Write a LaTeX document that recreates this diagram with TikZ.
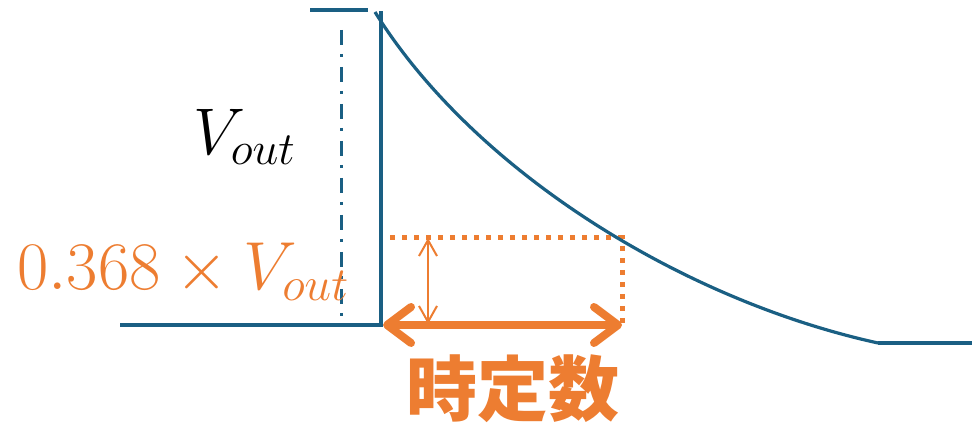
\RequirePackage{fix-cm}
\documentclass[tikz,border=0pt]{standalone}
\usepackage{fontspec}
\newfontfamily\cjk{Noto Sans CJK JP}
\usetikzlibrary{arrows.meta}
\definecolor{cblue}{HTML}{1A5F83}
\definecolor{corange}{HTML}{ED7D31}
\begin{document}
\begin{tikzpicture}[x=1pt,y=-1pt,
  blueline/.style={draw=cblue, line width=3.5pt},
  dashdotline/.style={draw=cblue, line width=3pt, dash pattern=on 15pt off 9pt on 3pt off 10pt},
  curveline/.style={draw=cblue, line width=3.2pt},
  dotline/.style={draw=corange, line width=5pt, dash pattern=on 5pt off 7pt},
  thinarrow/.style={draw=corange, line width=2pt, {Straight Barb[length=16pt,width=18pt]}-{Straight Barb[length=16pt,width=18pt]}},
  thickarrow/.style={draw=corange, line width=8pt, line cap=round, {Straight Barb[length=24pt,width=36pt,line cap=round,line join=round]}-{Straight Barb[length=24pt,width=36pt,line cap=round,line join=round]}},
  lbl/.style={inner sep=0pt, anchor=base west}]
\useasboundingbox (0,0) rectangle (972,427);
% coordinates
\coordinate (bl) at (120,325);
\coordinate (jb) at (381,325);
\coordinate (jt) at (381,11);
\coordinate (tl) at (310,10);
\coordinate (tr) at (368,10);
\coordinate (dt) at (341,30);
\coordinate (db) at (341,325);
\coordinate (cs) at (375,12);
\coordinate (ce) at (878,343);
\coordinate (re) at (972,343);
\coordinate (pc) at (622,238);
\coordinate (pl) at (390,238);
\coordinate (pb) at (622,325);
\coordinate (aT) at (428,238);
\coordinate (aB) at (428,324);
\coordinate (hL) at (383,325);
\coordinate (hR) at (622,325);
% orange dotted guides
\draw[dotline] (pl) -- (pc) -- (pb);
% blue lines
\draw[blueline] (tl) -- (tr);
\draw[dashdotline] (dt) -- (db);
\draw[blueline] (bl) -- (jb) -- (jt);
\draw[curveline] (cs) .. controls (472,168) and (678,299) .. (ce);
\draw[blueline] (ce) -- (re);
% arrows
\draw[thinarrow] (aT) -- (aB);
\draw[thickarrow] (hL) -- (hR);
% labels
\node[lbl, font=\fontsize{66}{72}\selectfont] (vout) at (193,155) {$V_{out}$};
\node[lbl, text=corange, font=\fontsize{68}{74}\selectfont] (vpct) at (17,290) {$0.368\times V_{out}$};
\node[inner sep=0pt, text=corange, font=\cjk\bfseries\fontsize{71}{76}\selectfont] (tc) at (513,389) {時定数};
\end{tikzpicture}
\end{document}
